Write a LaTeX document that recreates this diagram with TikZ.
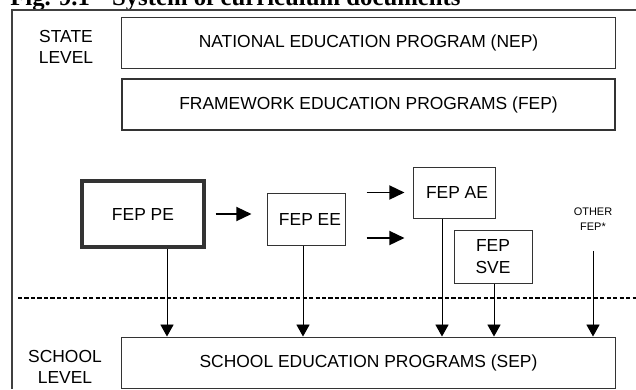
\documentclass[tikz,border=0pt]{standalone}
\usepackage{fontspec}
\setmainfont{Liberation Sans}
\newfontfamily\titlefont{Liberation Serif}
\usetikzlibrary{arrows.meta,positioning,calc}
\newcommand{\boxfont}{\fontsize{12.4}{14.5}\selectfont}
\newcommand{\tinyfont}{\fontsize{7.8}{11}\selectfont}
\tikzset{
  docbox/.style={rectangle, draw=black!80, line width=0.7pt, inner sep=0pt,
                 align=center, font=\boxfont},
  levellabel/.style={align=center, inner sep=0pt, font=\boxfont},
  push/.style={-{Triangle[length=0.38cm,width=0.35cm]}, line width=1.4pt},
  drop/.style={-{Triangle[length=0.3cm,width=0.33cm]}, line width=0.7pt},
  divider/.style={line width=1.2pt, dash pattern=on 3pt off 1.6pt},
}

\begin{document}
\begin{tikzpicture}[x=0.025cm, y=-0.025cm]
  \useasboundingbox (0,0) rectangle (636,389);
  \node[anchor=base west, inner sep=0pt,
        font=\titlefont\bfseries\fontsize{17.6}{20}\selectfont] (title) at (10,5)
        {Fig. 9.1\hspace{0.55cm}System of curriculum documents};
  \draw[line width=1pt, black!75] (636,10) -- (12,10) -- (12,389);

  % state level
  \node[levellabel] (state) at (66,47) {STATE\\LEVEL};
  \node[docbox, minimum width=12.325cm, minimum height=1.275cm] (nep) at (368.5,42.5)
        {NATIONAL EDUCATION PROGRAM (NEP)};
  \node[docbox, line width=1.1pt, minimum width=12.325cm, minimum height=1.275cm] (fep) at (368.5,104.5)
        {FRAMEWORK EDUCATION PROGRAMS (FEP)};

  % framework programmes
  \node[docbox, line width=2.2pt, minimum width=3.05cm, minimum height=1.65cm] (pe) at (143,214) {FEP PE};
  \node[docbox, minimum width=1.95cm, minimum height=1.3cm] (ee) at (306,219) {\hspace{0.2cm}FEP EE};
  \node[docbox, minimum width=2.05cm, minimum height=1.275cm] (ae) at (454,192.5) {\hspace{0.15cm}FEP AE};
  \node[docbox, minimum width=1.95cm, minimum height=1.325cm] (sve) at (493,256.5) {FEP\\[1.5pt]SVE};
  \node[align=center, inner sep=0pt, font=\tinyfont] (other) at (593,219) {OTHER\\FEP*};

  \draw[push, shorten <=0.25cm, shorten >=0.375cm] (pe.east) -- (pe.east -| ee.west);
  \draw[push, shorten <=0.525cm, shorten >=0.2cm] (ee.east |- ae.west) -- (ae.west);
  \draw[push, shorten <=0.525cm, shorten >=0.2cm] (ee.east |- 0,238) -- (ae.west |- 0,238);

  \draw[divider] (18,298) -- (636,298);

  % school level
  \node[levellabel] (school) at (65,367) {SCHOOL\\LEVEL};
  \node[docbox, minimum width=12.325cm, minimum height=1.275cm] (sep) at (368.5,362.5)
        {SCHOOL EDUCATION PROGRAMS (SEP)};

  \foreach \src/\x in {pe/167, ee/303, ae/442, sve/494}
    \draw[drop] (\src.south -| \x,0) -- (sep.north -| \x,0);
  \draw[drop, shorten <=0.5cm] (other.south -| 593,0) -- (sep.north -| 593,0);
\end{tikzpicture}
\end{document}
